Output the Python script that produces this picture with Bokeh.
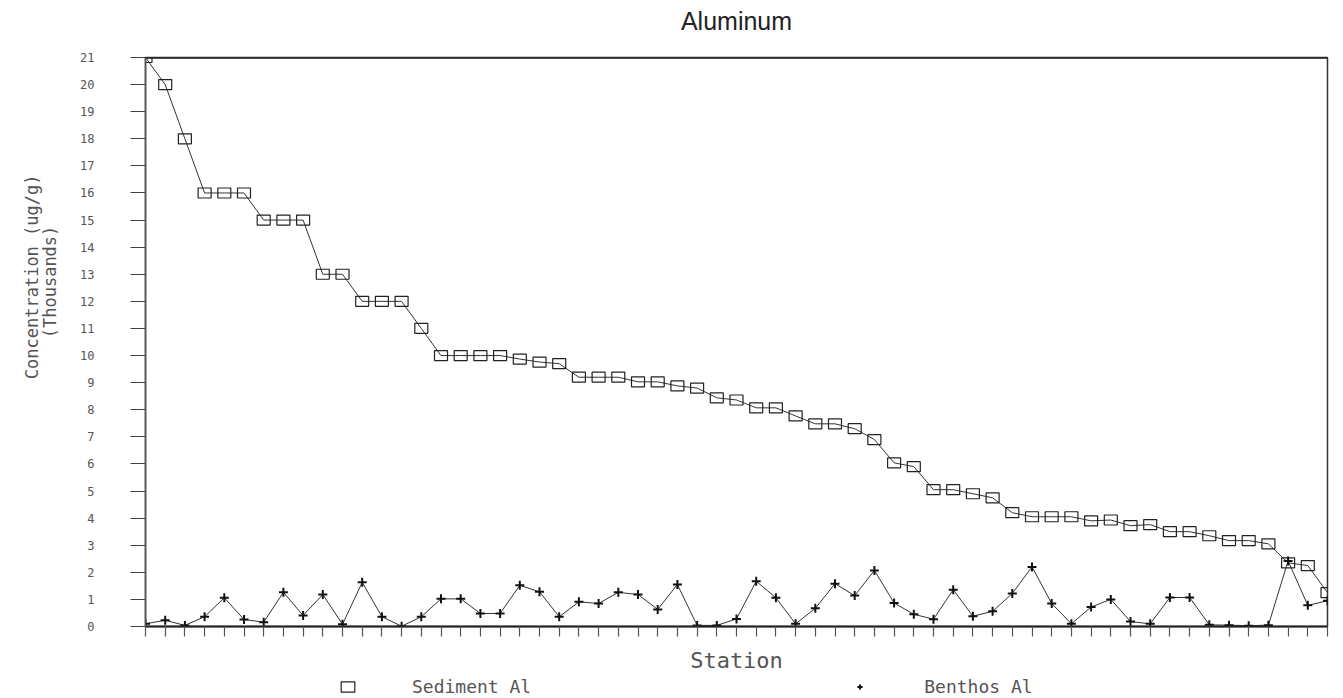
from bokeh.plotting import figure
from bokeh.layouts import column
from bokeh.models import Legend, LegendItem, FixedTicker, Range1d, Span, Title
from bokeh.embed import file_html
from bokeh.resources import INLINE

# ---- data (values in thousands of ug/g) ----
station = list(range(1, 62))
sediment = [21, 20, 18, 16, 16, 16, 15, 15, 15, 13, 13, 12, 12, 12, 11,
            10, 10, 10, 10, 9.87, 9.76, 9.7, 9.2, 9.2, 9.2, 9.03, 9.03, 8.88, 8.8,
            8.44, 8.36, 8.07, 8.07, 7.77, 7.48, 7.48, 7.3, 6.9, 6.04, 5.9,
            5.05, 5.05, 4.9, 4.75, 4.2, 4.05, 4.05, 4.05, 3.9, 3.93, 3.72, 3.76,
            3.5, 3.5, 3.35, 3.17, 3.17, 3.05, 2.35, 2.25, 1.25]
benthos = [0.1, 0.23, 0.04, 0.36, 1.06, 0.26, 0.16, 1.26, 0.41, 1.18, 0.08,
           1.63, 0.36, 0.01, 0.36, 1.02, 1.02, 0.48, 0.48, 1.52, 1.28, 0.36,
           0.91, 0.85, 1.26, 1.18, 0.63, 1.55, 0.04, 0.04, 0.28, 1.67, 1.06,
           0.1, 0.67, 1.58, 1.14, 2.07, 0.87, 0.45, 0.27, 1.36, 0.38, 0.56,
           1.22, 2.2, 0.85, 0.1, 0.72, 1.0, 0.18, 0.1, 1.07, 1.07, 0.06, 0.05,
           0.03, 0.05, 2.42, 0.78, 0.95]
y_ticks = list(range(0, 22))
title_text = "Aluminum"
x_label = "Station"
y_label_1 = "Concentration (ug/g)"
y_label_2 = "(Thousands)"
series_names = ["Sediment Al", "Benthos Al"]

TEXT = "#555555"
MONO = "DejaVu Sans Mono"

# styles shared by the plot glyphs and the legend glyphs
SED_STYLE = dict(width=13, height=10, width_units="screen", height_units="screen",
                 fill_color=None, line_color="#222222", line_width=1.2)
BEN_STYLE = dict(marker="cross", size=9, line_color="#111111", line_width=2)

p = figure(width=1343, height=675, output_backend="svg", toolbar_location=None,
           x_range=Range1d(1, 61), y_range=Range1d(0, 21),
           min_border_left=145, min_border_right=16,
           min_border_top=57, min_border_bottom=48)
p.background_fill_color = "white"
p.border_fill_color = "white"
p.xgrid.visible = False
p.ygrid.visible = False
p.outline_line_color = "#333333"
p.outline_line_width = 1.5

# title
p.title.text = title_text
p.title.align = "center"
p.title.vertical_align = "top"
p.title.text_font = "Liberation Sans"
p.title.text_font_size = "25px"
p.title.text_font_style = "normal"
p.title.text_color = "#222222"
p.title.standoff = 10
p.title.padding = dict(left=0, right=0, top=0, bottom=16)

# x axis: ticks at each station, no tick labels
p.xaxis.ticker = FixedTicker(ticks=station)
p.xaxis.major_label_overrides = {s: "" for s in station}
p.xaxis.major_label_standoff = 0
p.xaxis.major_tick_out = 10
p.xaxis.major_tick_in = 0
p.xaxis.minor_tick_line_color = None
p.xaxis.axis_line_width = 2
p.xaxis.axis_line_color = "#222222"
p.xaxis.major_tick_line_color = "#555555"
p.xaxis.major_tick_line_width = 1.2
p.xaxis.axis_label = x_label
p.xaxis.axis_label_standoff = 11
p.xaxis.axis_label_text_font = MONO
p.xaxis.axis_label_text_font_size = "22px"
p.xaxis.axis_label_text_font_style = "normal"
p.xaxis.axis_label_text_color = TEXT

# y axis
p.yaxis.ticker = FixedTicker(ticks=y_ticks)
p.yaxis.major_tick_out = 15
p.yaxis.major_tick_in = 0
p.yaxis.minor_tick_line_color = None
p.yaxis.axis_line_color = "#555555"
p.yaxis.axis_line_width = 1.5
p.yaxis.major_tick_line_color = "#444444"
p.yaxis.major_tick_line_width = 1.2
p.yaxis.major_label_standoff = 36
p.yaxis.major_label_text_font = MONO
p.yaxis.major_label_text_font_size = "12px"
p.yaxis.major_label_text_color = TEXT

# y axis label: two centred lines in one side title, shifted toward the top
pad = (len(y_label_1) - len(y_label_2))
line2 = "\u00a0" * (pad // 2) + y_label_2 + "\u00a0" * (pad - pad // 2)
p.add_layout(Title(text=y_label_1 + "\n" + line2, align="right", offset=117,
                   standoff=35, text_font=MONO, text_font_size="17px",
                   text_font_style="normal", text_line_height=0.9,
                   text_color=TEXT), "left")

# heavy top line
p.add_layout(Span(location=21, dimension="width", line_color="#222222", line_width=2.5))

# series
p.line(station, sediment, line_color="#333333", line_width=1)
p.rect(station, sediment, **SED_STYLE)
p.line(station, benthos, line_color="#333333", line_width=1)
p.scatter(station, benthos, **BEN_STYLE)

# legend strip under the chart (its glyph renderers sit outside its visible ranges)
leg_fig = figure(width=1343, height=23, output_backend="svg", toolbar_location=None,
                 x_axis_location=None, y_axis_location=None, min_border=0,
                 x_range=Range1d(100, 101), y_range=Range1d(100, 101))
leg_fig.outline_line_color = None
leg_fig.xgrid.visible = False
leg_fig.ygrid.visible = False
leg_fig.background_fill_color = "white"
leg_fig.border_fill_color = "white"
l_sed = leg_fig.rect(station, sediment, **SED_STYLE)
l_ben = leg_fig.scatter(station, benthos, **BEN_STYLE)
legend = Legend(items=[LegendItem(label=series_names[0], renderers=[l_sed]),
                       LegendItem(label=series_names[1], renderers=[l_ben])],
                location=(194, 1), orientation="horizontal",
                glyph_width=17, glyph_height=13, label_standoff=56, spacing=320,
                label_height=18, padding=0, margin=0, border_line_color=None,
                background_fill_alpha=0, label_text_font=MONO,
                label_text_font_size="18px", label_text_color=TEXT)
leg_fig.add_layout(legend, "center")

layout = column(p, leg_fig, spacing=0)
open("out.html", "w").write(file_html(layout, INLINE))
